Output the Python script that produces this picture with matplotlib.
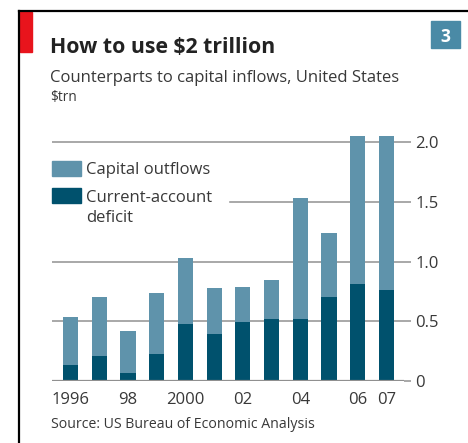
import matplotlib
matplotlib.use("Agg")
import matplotlib.pyplot as plt
from matplotlib.patches import Rectangle
import numpy as np

years = [1996, 1997, 1998, 1999, 2000, 2001, 2002, 2003, 2004, 2005, 2006, 2007]
deficit = [0.13, 0.21, 0.065, 0.23, 0.475, 0.39, 0.495, 0.52, 0.52, 0.70, 0.81, 0.76]
total = [0.54, 0.70, 0.42, 0.74, 1.03, 0.78, 0.79, 0.85, 1.53, 1.24, 2.05, 2.05]
outflows = [t - d for t, d in zip(total, deficit)]
xtick_labels = {1996: "1996", 1998: "98", 2000: "2000", 2002: "02", 2004: "04", 2006: "06", 2007: "07"}
yticks = [0, 0.5, 1.0, 1.5, 2.0]
ytick_labels = ["0", "0.5", "1.0", "1.5", "2.0"]

LIGHT = "#5f93ab"
DARK = "#00516d"
TXT = "#383838"
FONT = ["Open Sans", "DejaVu Sans"]
plt.rcParams["font.family"] = FONT

W, H = 468, 443
fig = plt.figure(figsize=(W / 100, H / 100), dpi=100)

def fx(x):
    return x / W

def fy(y):
    return 1 - y / H

# frame
fig.add_artist(plt.Line2D([fx(18.5), fx(18.5)], [fy(10.5), fy(443)], color="black", lw=1.6))
fig.add_artist(plt.Line2D([fx(18.5), fx(468)], [fy(10.5), fy(10.5)], color="black", lw=1.6))
fig.add_artist(Rectangle((fx(20), fy(52)), fx(12), 40 / H, color="#e8141c", transform=fig.transFigure))
fig.add_artist(Rectangle((fx(431), fy(48)), fx(29), 27 / H, color="#4a8aa6", transform=fig.transFigure))
fig.text(fx(445.5), fy(41.5), "3", color="white", fontsize=12.5, fontweight="bold", ha="center", va="baseline")

fig.text(fx(50), fy(53), "How to use $2 trillion", fontsize=15.3, fontweight="bold", color="#222222",
         ha="left", va="baseline")
fig.text(fx(50), fy(82), "Counterparts to capital inflows, United States", fontsize=12, color=TXT,
         ha="left", va="baseline")
fig.text(fx(50), fy(101.5), "$trn", fontsize=9.8, color=TXT, ha="left", va="baseline")
fig.text(fx(51), fy(428), "Source: US Bureau of Economic Analysis", fontsize=10.2, color=TXT,
         ha="left", va="baseline")

# axes
left, right, bottom = 52, 404, 381
ymax = 2.1
top = bottom - ymax * 119.3
ax = fig.add_axes([fx(left), fy(bottom), (right - left) / W, (bottom - top) / H])
x = np.arange(len(years))
ax.set_xlim(-0.644, 11.61)
ax.set_ylim(0, ymax)
for s in ax.spines.values():
    s.set_visible(False)
for yv in yticks[1:]:
    ax.axhline(yv, color="#a8a8a8", lw=1.4, zorder=1)
ax.axhline(0, color="#909090", lw=1.6, zorder=4)

ax.bar(x, deficit, width=0.53, color=DARK, zorder=3)
ax.bar(x, outflows, bottom=deficit, width=0.53, color=LIGHT, zorder=3)

# legend background (hides gridlines)
ax.add_patch(Rectangle((0, 0.62), 0.5, 0.27, transform=ax.transAxes, color="white", zorder=2))
fig.add_artist(Rectangle((fx(52), fy(176)), fx(29), 15 / H, color=LIGHT, transform=fig.transFigure))
fig.add_artist(Rectangle((fx(52), fy(203)), fx(29), 15 / H, color=DARK, transform=fig.transFigure))
fig.text(fx(86), fy(174.5), "Capital outflows", fontsize=12, color=TXT, ha="left", va="baseline")
fig.text(fx(86), fy(202.5), "Current-account", fontsize=12, color=TXT, ha="left", va="baseline")
fig.text(fx(86), fy(221.5), "deficit", fontsize=12, color=TXT, ha="left", va="baseline")

ax.yaxis.tick_right()
ax.set_yticks(yticks)
ax.set_yticklabels(ytick_labels)
ax.tick_params(axis="y", length=5, width=1.4, color="#a8a8a8", pad=3, labelsize=12, labelcolor=TXT)

tick_pos = [years.index(y) for y in xtick_labels]
ax.set_xticks(tick_pos)
ax.set_xticklabels(list(xtick_labels.values()))
ax.tick_params(axis="x", length=0, pad=8, labelsize=12, labelcolor=TXT)

fig.savefig("out.png", dpi=100)
